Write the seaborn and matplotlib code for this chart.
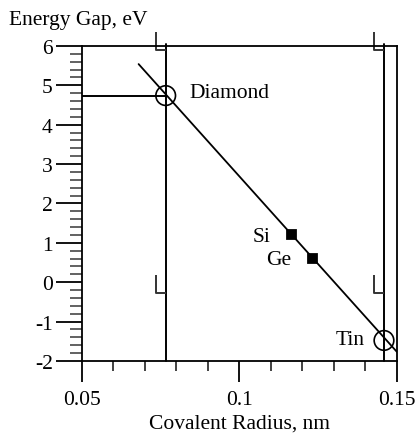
import numpy as np
import pandas as pd
import seaborn as sns
from matplotlib import pyplot as plt
from matplotlib.path import Path
from matplotlib.ticker import MultipleLocator

sns.set_theme(style='ticks')
plt.rcParams['font.family'] = ['Liberation Serif', 'DejaVu Serif']
plt.rcParams['axes.unicode_minus'] = False

# Element data
names = ['Diamond', 'Si', 'Ge', 'Tin']
radius = [0.0766, 0.1163, 0.1231, 0.1459]
gap = [4.74, 1.23, 0.61, -1.48]
open_marker = [True, False, False, True]

# Straight line through the points
fit_x = [0.068, 0.150]
fit_y = [5.54, -1.77]

# Label positions (text anchored next to each point)
label_x = [0.084, 0.1099, 0.1166, 0.1398]
label_y = [4.82, 1.16, 0.57, -1.46]
label_ha = ['left', 'right', 'right', 'right']

# Reference lines and small L-shaped flags
vline_x = [0.0766, 0.1459]
hline_y = 4.74
flag_y = [5.9, -0.28]

FS = 15.5

df = pd.DataFrame({'name': names, 'radius': radius, 'gap': gap, 'open': open_marker})
fit = pd.DataFrame({'radius': fit_x, 'gap': fit_y})

fig = plt.figure(figsize=(4.2, 4.35), dpi=100)
ax = fig.add_axes([0.195, 0.168, 0.75, 0.724])

sns.lineplot(data=fit, x='radius', y='gap', color='black', lw=1.3, ax=ax)

for xv in vline_x:
    ax.axvline(xv, ymin=0, ymax=1.006, color='black', lw=1.4, clip_on=False)
ax.plot([0.05, radius[0]], [hline_y, hline_y], color='black', lw=1.4)

opens = df[df['open']]
filled = df[~df['open']]
sns.scatterplot(data=opens, x='radius', y='gap', marker='o', s=200,
                facecolor='none', edgecolor='black', linewidth=1.2, ax=ax, zorder=5)
sns.scatterplot(data=filled, x='radius', y='gap', marker='s', s=50,
                color='black', edgecolor='black', ax=ax, zorder=5)

# L-shaped flags drawn as a path marker, corner at the reference line
L_path = Path([(-0.55, 1.0), (-0.55, 0.0), (0.0, 0.0)],
              [Path.MOVETO, Path.LINETO, Path.LINETO])
for xv in vline_x:
    for yv in flag_y:
        ax.plot([xv], [yv], marker=L_path, markersize=26, color='#333333',
                markerfacecolor='none', markeredgewidth=1.4, clip_on=False)

for n, lx, ly, ha in zip(names, label_x, label_y, label_ha):
    ax.text(lx, ly, n, ha=ha, va='center', fontsize=FS, color='black')

ax.set_xlim(0.05, 0.15)
ax.set_ylim(-2, 6)
ax.xaxis.set_minor_locator(MultipleLocator(0.01))
ax.yaxis.set_major_locator(MultipleLocator(1))
ax.yaxis.set_minor_locator(MultipleLocator(0.2))
ax.set_xticks([0.05, 0.1, 0.15])
ax.set_xticklabels(['0.05', '0.1', '0.15'])

ax.tick_params(axis='both', which='major', direction='out', color='black',
               labelsize=FS, labelcolor='black')
ax.tick_params(axis='y', which='major', length=19, width=1.3, pad=2)
ax.tick_params(axis='y', which='minor', length=9, width=1.3, color='#555555')
ax.tick_params(axis='x', which='major', length=15, width=1.3, pad=6)
ax.tick_params(axis='x', which='minor', length=7, width=1.3, color='#333333')

for sp in ax.spines.values():
    sp.set_color('black')
    sp.set_linewidth(1.3)
    sp.set_visible(True)

ax.set_xlabel('Covalent Radius, nm', fontsize=FS, color='black', labelpad=3)
ax.set_ylabel('Energy Gap, eV', fontsize=FS, color='black', rotation=0,
              ha='left', va='center')
ax.yaxis.set_label_coords(-0.23, 1.083)

fig.savefig('out.png', dpi=100, facecolor='white')
